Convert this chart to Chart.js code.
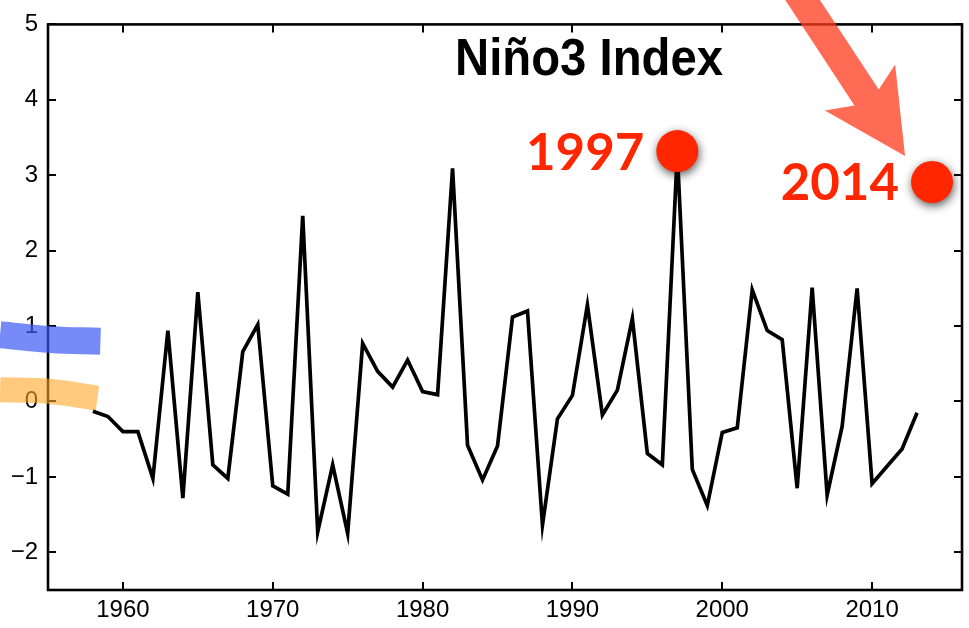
<!DOCTYPE html>
<html>
<head>
<meta charset="utf-8">
<script src="https://cdn.jsdelivr.net/npm/chart.js@4.4.1/dist/chart.umd.min.js"></script>
<style>
html, body { margin: 0; padding: 0; background: #fff; }
</style>
</head>
<body>
<canvas id="canvas" width="969" height="628"></canvas>
<script>
// Niño3 index, one value per year from 1958 to 2013
var firstYear = 1958;
var nino3 = [
	-0.13, -0.20, -0.40, -0.40, -1.02, 0.94, -1.28, 1.45, -0.84, -1.02,
	0.66, 1.02, -1.12, -1.23, 2.46, -1.73, -0.84, -1.75, 0.77, 0.40,
	0.19, 0.55, 0.13, 0.09, 3.09, -0.58, -1.04, -0.59, 1.12, 1.20,
	-1.64, -0.23, 0.08, 1.28, -0.18, 0.15, 1.10, -0.69, -0.84, 3.30,
	-0.90, -1.38, -0.41, -0.35, 1.48, 0.94, 0.82, -1.15, 1.51, -1.24,
	-0.33, 1.50, -1.09, -0.86, -0.63, -0.15
];
var years = nino3.map(function (v, i) { return firstYear + i; });

// highlighted events
var markYears = [1997, 2014];
var markValues = [3.32, 2.91];
var markLabels = ['1997', '2014'];

// the two cut-off coloured series at the left edge
var blueYears = [1951.8, 1955.2, 1958.5];
var blueValues = [0.885, 0.82, 0.80];
var orangeYears = [1951.8, 1955.0, 1958.3];
var orangeValues = [0.157, 0.135, 0.045];

var xTicks = [1960, 1970, 1980, 1990, 2000, 2010];
var yTicks = [-2, -1, 0, 1, 2, 3, 4, 5];

var RED = '#ff2600';
var tickFont = { family: "'Liberation Sans Narrow', 'Liberation Sans', Arial, sans-serif", size: 24 };

function pts(xs, ys) {
	return xs.map(function (x, i) { return { x: x, y: ys[i] }; });
}

var framePlugin = {
	id: 'frame',
	beforeDatasetsDraw: function (chart) {
		var ctx = chart.ctx, ca = chart.chartArea;
		var sx = chart.scales.x, sy = chart.scales.y;
		ctx.save();
		ctx.strokeStyle = '#000';
		ctx.lineWidth = 2.6;
		ctx.strokeRect(ca.left, ca.top, ca.right - ca.left, ca.bottom - ca.top);
		ctx.lineWidth = 2;
		ctx.beginPath();
		xTicks.forEach(function (t) {
			var px = Math.round(sx.getPixelForValue(t));
			ctx.moveTo(px, ca.bottom); ctx.lineTo(px, ca.bottom - 8);
			ctx.moveTo(px, ca.top); ctx.lineTo(px, ca.top + 8);
		});
		yTicks.forEach(function (t) {
			var py = Math.round(sy.getPixelForValue(t));
			ctx.moveTo(ca.left, py); ctx.lineTo(ca.left + 8, py);
			ctx.moveTo(ca.right, py); ctx.lineTo(ca.right - 8, py);
		});
		ctx.stroke();
		ctx.restore();
	},
	beforeDatasetDraw: function (chart, args) {
		if (args.index === 0) {
			var ctx = chart.ctx;
			ctx.save();
			ctx.shadowColor = 'rgba(0,0,0,0.65)';
			ctx.shadowBlur = 10;
			ctx.shadowOffsetX = 1;
			ctx.shadowOffsetY = 3;
		}
	},
	afterDatasetDraw: function (chart, args) {
		if (args.index === 0) chart.ctx.restore();
	},
	afterDraw: function (chart) {
		var ctx = chart.ctx;
		var sx = chart.scales.x, sy = chart.scales.y;
		ctx.save();

		// labels next to the highlighted dots
		ctx.fillStyle = RED;
		ctx.font = 'bold 51px Lato, sans-serif';
		ctx.textAlign = 'right';
		ctx.textBaseline = 'middle';
		markYears.forEach(function (yr, i) {
			var px = sx.getPixelForValue(yr), py = sy.getPixelForValue(markValues[i]);
			ctx.fillText(markLabels[i], px - 33, py + 2);
		});

		// arrow pointing at the 2014 dot
		var tx = sx.getPixelForValue(markYears[1]) - 27;
		var ty = sy.getPixelForValue(markValues[1]) - 26;
		var ang = Math.atan2(0.836, 0.549);
		ctx.translate(tx, ty);
		ctx.rotate(ang);
		ctx.fillStyle = 'rgba(255,60,30,0.76)';
		ctx.beginPath();
		ctx.moveTo(0, 0);
		ctx.lineTo(-82, -42);
		ctx.lineTo(-70, -14.5);
		ctx.lineTo(-300, -14.5);
		ctx.lineTo(-300, 14.5);
		ctx.lineTo(-70, 14.5);
		ctx.lineTo(-82, 42);
		ctx.closePath();
		ctx.fill();
		ctx.setTransform(1, 0, 0, 1, 0, 0);

		// title
		var title = 'Niño3 Index';
		ctx.fillStyle = '#000';
		ctx.font = 'bold 52px "Liberation Sans", Arial, sans-serif';
		ctx.textAlign = 'left';
		ctx.textBaseline = 'alphabetic';
		var w = ctx.measureText(title).width;
		ctx.translate(455, 75);
		ctx.scale(268 / w, 1);
		ctx.fillText(title, 0, 0);
		ctx.restore();
	}
};

var ctx = document.getElementById('canvas').getContext('2d');
window.myChart = new Chart(ctx, {
	type: 'line',
	data: {
		datasets: [{
			label: 'events',
			data: pts(markYears, markValues),
			showLine: false,
			pointRadius: 21,
			pointHoverRadius: 21,
			pointBackgroundColor: RED,
			pointBorderWidth: 0,
			borderColor: RED,
			clip: false,
			order: 0
		}, {
			label: 'Niño3',
			data: pts(years, nino3),
			borderColor: '#000',
			borderWidth: 3.7,
			borderJoinStyle: 'miter',
			pointRadius: 0,
			tension: 0,
			order: 1
		}, {
			label: 'blue',
			data: pts(blueYears, blueValues),
			borderColor: 'rgba(60,90,245,0.7)',
			borderWidth: 27,
			borderCapStyle: 'butt',
			pointRadius: 0,
			tension: 0.4,
			clip: false,
			order: 2
		}, {
			label: 'orange',
			data: pts(orangeYears, orangeValues),
			borderColor: 'rgba(255,165,40,0.6)',
			borderWidth: 25,
			borderCapStyle: 'butt',
			pointRadius: 0,
			tension: 0.4,
			clip: false,
			order: 2
		}]
	},
	options: {
		responsive: false,
		animation: false,
		events: [],
		layout: { autoPadding: false, padding: { left: 0, right: 7, top: 14, bottom: 0 } },
		plugins: {
			legend: { display: false },
			tooltip: { enabled: false },
			title: { display: false }
		},
		scales: {
			x: {
				type: 'linear',
				min: 1955,
				max: 2016,
				grid: { display: false, drawTicks: false },
				border: { display: false },
				afterFit: function (scale) { scale.height = 38; },
				afterBuildTicks: function (scale) {
					scale.ticks = xTicks.map(function (v) { return { value: v }; });
				},
				ticks: {
					color: '#000',
					font: tickFont,
					padding: 6,
					maxRotation: 0,
					autoSkip: false,
					callback: function (v) { return String(v); }
				}
			},
			y: {
				min: -2.5,
				max: 5,
				grid: { display: false, drawTicks: false },
				border: { display: false },
				afterFit: function (scale) { scale.width = 48; },
				afterBuildTicks: function (scale) {
					scale.ticks = yTicks.map(function (v) { return { value: v }; });
				},
				ticks: {
					color: '#000',
					font: tickFont,
					padding: 10,
					callback: function (v) { return v < 0 ? '\u2212' + Math.abs(v) : String(v); }
				}
			}
		}
	},
	plugins: [framePlugin]
});
</script>
</body>
</html>
